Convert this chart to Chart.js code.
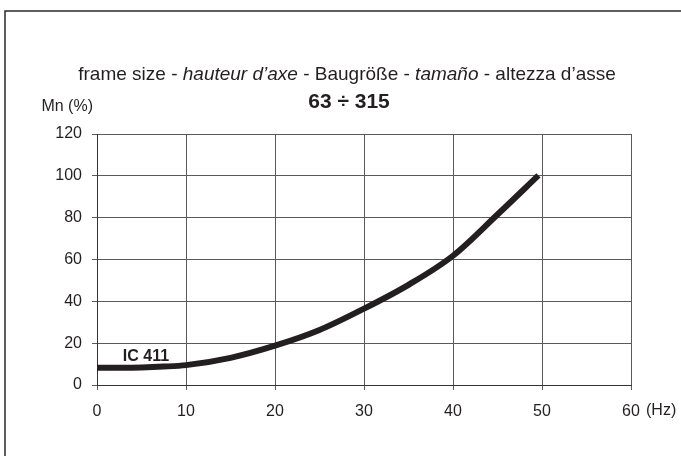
<!DOCTYPE html>
<html>
<head>
<meta charset="utf-8">
<script src="https://cdn.jsdelivr.net/npm/chart.js@4.4.1/dist/chart.umd.min.js"></script>
<style>
  html, body { margin: 0; padding: 0; background: #ffffff; }
  canvas { display: block; }
</style>
</head>
<body>
<canvas id="c" width="681" height="456"></canvas>
<script>
// ---- data ----
const freqHz    = [0, 2.5, 5, 7.5, 10, 15, 20, 25, 30, 35, 40, 45, 49.6];
const torquePct = [8.3, 8.3, 8.4, 8.8, 9.5, 13, 18.8, 26.3, 36.5, 47.9, 61.8, 81.5, 100.2];
const xTickLabels = ['0', '10', '20', '30', '40', '50', '60'];
const yTickLabels = ['0', '20', '40', '60', '80', '100', '120'];
const seriesName = 'IC 411';
const titleParts = [
  ['frame size - ', false],
  ['hauteur d\u2019axe', true],
  [' - Baugr\u00f6\u00dfe - ', false],
  ['tama\u00f1o', true],
  [' - altezza d\u2019asse', false]
];
const subTitle = '63 \u00f7 315';
const yUnit = 'Mn (%)';
const xUnit = '(Hz)';

const FONT = "'Liberation Sans', Arial, Helvetica, sans-serif";
const INK = '#231f20';

const overlay = {
  id: 'overlay',
  afterDraw(chart) {
    const ctx = chart.ctx;
    const xs = chart.scales.x, ys = chart.scales.y;
    ctx.save();
    // frame
    ctx.strokeStyle = '#2a2a2a';
    ctx.lineWidth = 1.5;
    ctx.beginPath();
    ctx.moveTo(5, 456);
    ctx.lineTo(5, 11);
    ctx.lineTo(681, 11);
    ctx.stroke();

    ctx.fillStyle = INK;
    ctx.textBaseline = 'alphabetic';
    // title line 1 (mixed italic)
    const sz = 19;
    let total = 0;
    titleParts.forEach(([t, it]) => {
      ctx.font = (it ? 'italic ' : '') + sz + 'px ' + FONT;
      total += ctx.measureText(t).width;
    });
    let x = 347 - total / 2;
    ctx.textAlign = 'left';
    titleParts.forEach(([t, it]) => {
      ctx.font = (it ? 'italic ' : '') + sz + 'px ' + FONT;
      ctx.fillText(t, x, 80);
      x += ctx.measureText(t).width;
    });
    // title line 2
    ctx.font = 'bold 21px ' + FONT;
    ctx.textAlign = 'center';
    ctx.fillText(subTitle, 349, 108);
    // y unit
    ctx.font = '16px ' + FONT;
    ctx.textAlign = 'right';
    ctx.fillText(yUnit, 93, 111);
    // x unit
    ctx.textAlign = 'left';
    ctx.textBaseline = 'middle';
    const lastTick = xs.ticks[xs.ticks.length - 1];
    ctx.fillText(xUnit, xs.getPixelForValue(lastTick.value) + 15, 411);
    // series label
    ctx.font = 'bold 16px ' + FONT;
    ctx.textBaseline = 'alphabetic';
    ctx.textAlign = 'left';
    ctx.fillText(seriesName, xs.getPixelForValue(2.9), ys.getPixelForValue(11.6));
    ctx.restore();
  }
};

new Chart(document.getElementById('c'), {
  type: 'line',
  data: {
    datasets: [{
      label: seriesName,
      data: freqHz.map((f, i) => ({ x: f, y: torquePct[i] })),
      borderColor: INK,
      borderWidth: 6,
      pointRadius: 0,
      fill: false,
      cubicInterpolationMode: 'monotone',
      borderCapStyle: 'butt'
    }]
  },
  options: {
    responsive: false,
    animation: false,
    layout: { padding: { top: 134, right: 50, bottom: 0, left: 0 } },
    plugins: { legend: { display: false }, tooltip: { enabled: false }, title: { display: false } },
    scales: {
      x: {
        type: 'linear', min: 0, max: 60,
        ticks: {
          stepSize: 10, color: INK, padding: 12,
          font: { family: FONT, size: 16 },
          callback: (v, i) => xTickLabels[i]
        },
        grid: { color: '#5a5a5a', lineWidth: 1, tickLength: 5, drawTicks: true },
        border: { color: '#333', width: 1 },
        afterFit(s) { s.height = 71; }
      },
      y: {
        type: 'linear', min: 0, max: 120,
        ticks: {
          stepSize: 20, color: INK, padding: 10,
          font: { family: FONT, size: 16 },
          callback: (v, i) => yTickLabels[i]
        },
        grid: { color: '#5a5a5a', lineWidth: 1, tickLength: 5, drawTicks: true },
        border: { color: '#333', width: 1 },
        afterFit(s) { s.width = 97; }
      }
    }
  },
  plugins: [overlay]
});
</script>
</body>
</html>
